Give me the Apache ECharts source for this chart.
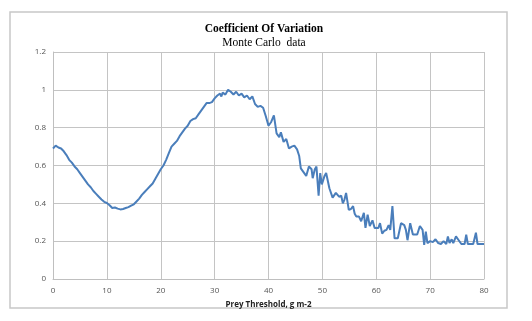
<!DOCTYPE html>
<html>
<head>
<meta charset="utf-8">
<script src="https://cdn.jsdelivr.net/npm/echarts@6/dist/echarts.min.js"></script>
<style>
  html, body { margin: 0; padding: 0; background: #fff; }
  #main { width: 532px; height: 321px; }
</style>
</head>
<body>
<div id="main"></div>
<script>
// prey threshold (g m-2)
var thresholds = [
  0, 0.5, 1, 1.5, 2, 2.5, 3, 3.5, 4, 4.5, 5, 5.5, 6, 6.5, 7, 7.5, 8, 8.5, 9, 9.5,
  10, 10.5, 11, 11.5, 12, 12.5, 13, 13.5, 14, 14.5, 15, 15.5, 16, 16.5, 17, 17.5, 18, 18.5, 19, 19.5,
  20, 20.5, 21, 21.5, 22, 22.5, 23, 23.5, 24, 24.5, 25, 25.5, 26, 26.5, 27, 27.5, 28, 28.5, 29, 29.5,
  30, 30.5, 31, 31.25, 31.5, 32, 32.5, 33, 33.5, 34, 34.5, 35, 35.5, 36, 36.5, 37, 37.5, 38, 38.5, 39, 39.5,
  40, 40.5, 41, 41.5, 42, 42.3, 42.8, 43.3, 43.8, 44.3, 44.8, 45.3, 45.7,
  46, 46.5, 47, 47.5, 48, 48.2, 48.6, 48.9, 49.3, 49.6, 49.9, 50.4, 50.7,
  51.3, 51.6, 51.9, 52.5, 53.1, 53.5, 53.8, 54.1, 54.4, 54.9, 55.3, 55.7, 56, 56.3, 56.8,
  57.2, 57.7, 58, 58.4, 58.8, 59.3, 59.7, 60.4, 60.7, 61.1, 61.5, 61.9, 62.3, 62.6,
  63, 63.4, 64, 64.6, 65.2, 65.5, 65.8, 66.3, 66.8, 67.6, 68.1, 68.6, 68.9, 69.2, 69.5,
  70, 70.5, 71, 71.5, 72, 72.5, 73, 73.3, 73.6, 74, 74.3, 74.8, 75.3, 75.8, 76.4, 76.7, 77,
  78, 78.5, 78.8, 80
];
// coefficient of variation
var cvValues = [
  0.69, 0.705, 0.695, 0.69, 0.675, 0.655, 0.63, 0.615, 0.595, 0.58, 0.56, 0.54, 0.52, 0.5, 0.485, 0.465, 0.45, 0.435, 0.42, 0.408,
  0.402, 0.39, 0.375, 0.378, 0.372, 0.368, 0.37, 0.375, 0.38, 0.388, 0.395, 0.41, 0.425, 0.445, 0.46, 0.475, 0.49, 0.505, 0.53, 0.555,
  0.58, 0.6, 0.63, 0.665, 0.7, 0.715, 0.73, 0.755, 0.775, 0.795, 0.81, 0.835, 0.845, 0.85, 0.87, 0.89, 0.91, 0.93, 0.93, 0.935,
  0.955, 0.97, 0.98, 0.965, 0.985, 0.975, 1.0, 0.99, 0.975, 0.99, 0.97, 0.98, 0.96, 0.97, 0.95, 0.965, 0.925, 0.91, 0.915, 0.905, 0.86,
  0.81, 0.83, 0.865, 0.77, 0.75, 0.775, 0.725, 0.74, 0.69, 0.7, 0.705, 0.685, 0.65,
  0.585, 0.565, 0.545, 0.595, 0.58, 0.533, 0.58, 0.594, 0.44, 0.56, 0.5, 0.545, 0.56,
  0.48, 0.47, 0.43, 0.455, 0.435, 0.44, 0.4, 0.42, 0.455, 0.365, 0.37, 0.385, 0.345, 0.33, 0.33,
  0.305, 0.35, 0.27, 0.34, 0.28, 0.31, 0.27, 0.27, 0.295, 0.24, 0.255, 0.26, 0.285, 0.26,
  0.385, 0.215, 0.215, 0.295, 0.285, 0.26, 0.205, 0.295, 0.235, 0.235, 0.28, 0.26, 0.18, 0.25, 0.19,
  0.2, 0.195, 0.21, 0.19, 0.185, 0.2, 0.185, 0.225, 0.19, 0.21, 0.19, 0.225, 0.205, 0.185, 0.185, 0.235, 0.185,
  0.185, 0.245, 0.185, 0.185
];
var xTicks = [0, 10, 20, 30, 40, 50, 60, 70, 80];
var yTicks = [0, 0.2, 0.4, 0.6, 0.8, 1, 1.2];

var points = [];
for (var i = 0; i < thresholds.length; i++) {
  points.push([thresholds[i], cvValues[i]]);
}

var chart = echarts.init(document.getElementById('main'), null, { renderer: 'canvas' });
var option = {
  animation: false,
  backgroundColor: '#ffffff',
  graphic: [
    {
      type: 'rect',
      shape: { x: 10, y: 12, width: 497, height: 296 },
      style: { fill: 'none', stroke: '#c8c8c8', lineWidth: 1.5 },
      z: -1
    }
  ],
  title: [
    {
      text: 'Coefficient Of Variation',
      left: 259, top: 18, textAlign: 'center',
      textStyle: { fontFamily: 'Liberation Serif', fontWeight: 'bold', fontSize: 11.5, color: '#000' }
    },
    {
      text: 'Monte Carlo  data',
      left: 259, top: 32, textAlign: 'center',
      textStyle: { fontFamily: 'Liberation Serif', fontWeight: 'normal', fontSize: 11.5, color: '#000' }
    }
  ],
  grid: { left: 53, right: 48, top: 52, bottom: 42 },
  xAxis: {
    type: 'value',
    min: xTicks[0], max: xTicks[xTicks.length - 1], interval: 10,
    name: 'Prey Threshold, g m-2',
    nameLocation: 'middle', nameGap: 22,
    nameTextStyle: { fontFamily: 'Open Sans', fontWeight: 'bold', fontSize: 8, color: '#222' },
    axisLine: { lineStyle: { color: '#bfbfbf', width: 1 } },
    axisTick: { show: false },
    axisLabel: { fontFamily: 'Open Sans', fontSize: 8, color: '#555', margin: 8 },
    splitLine: { show: true, lineStyle: { color: '#c4c4c4', width: 1 } }
  },
  yAxis: {
    type: 'value',
    min: yTicks[0], max: yTicks[yTicks.length - 1], interval: 0.2,
    axisLine: { show: true, lineStyle: { color: '#bfbfbf', width: 1 } },
    axisTick: { show: false },
    axisLabel: { fontFamily: 'Open Sans', fontSize: 8, color: '#555', margin: 7 },
    splitLine: { show: true, lineStyle: { color: '#c4c4c4', width: 1 } }
  },
  series: [
    {
      type: 'line',
      data: points,
      showSymbol: false,
      lineStyle: { color: '#4a7ebb', width: 2 },
      itemStyle: { color: '#4a7ebb' }
    }
  ]
};
chart.setOption(option);
</script>
</body>
</html>
